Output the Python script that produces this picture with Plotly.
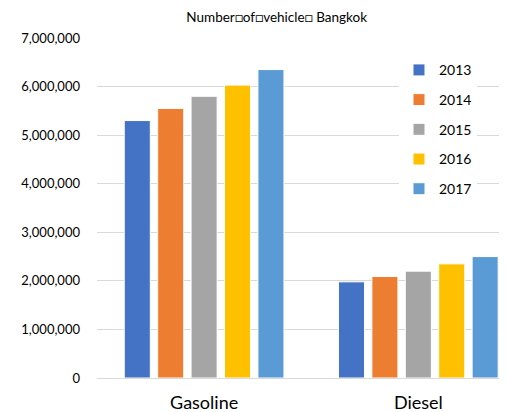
import plotly.graph_objects as go

categories = ["Gasoline", "Diesel"]
years = ["2013", "2014", "2015", "2016", "2017"]
gasoline = [5300000, 5550000, 5800000, 6030000, 6350000]
diesel = [1980000, 2090000, 2200000, 2350000, 2500000]
colors = ["#4472C4", "#ED7D31", "#A5A5A5", "#FFC000", "#5B9BD5"]
y_ticks = [0, 1000000, 2000000, 3000000, 4000000, 5000000, 6000000, 7000000]
title_text = "Number\u25a1of\u25a1vehicle\u25a1 Bangkok"

font_family = "Lato, 'Open Sans', sans-serif"

fig = go.Figure()
for i, yr in enumerate(years):
    fig.add_trace(go.Bar(
        x=categories,
        y=[gasoline[i], diesel[i]],
        name=yr,
        legendgroup=yr,
        marker=dict(color=colors[i], line=dict(color="white", width=1)),
    ))

fig.update_layout(
    width=507, height=412,
    margin=dict(l=89, r=11, t=30, b=42),
    paper_bgcolor="white", plot_bgcolor="white",
    barmode="group", bargap=0.22, bargroupgap=0.22,
    title=dict(text=title_text, x=0.53, xanchor="center", y=0.99, yanchor="top",
               xref="container", yref="container",
               font=dict(family=font_family, size=13.5, color="#000000")),
    showlegend=True,
    legend=dict(x=0.742, y=0.952, xanchor="left", yanchor="top",
                bgcolor="white", font=dict(family=font_family, size=14, color="#000000"),
                tracegroupgap=8.5, itemwidth=30, traceorder="grouped"),
    xaxis=dict(range=[-0.5, 1.4], showgrid=False, showline=False, ticks="",
               ticklabelstandoff=12, automargin=False,
               tickfont=dict(family=font_family, size=18, color="#000000")),
    yaxis=dict(range=[0, 7000000], tickvals=y_ticks, tickformat=",d",
               showgrid=True, gridcolor="#D9D9D9", gridwidth=1,
               zeroline=True, zerolinecolor="#D9D9D9", zerolinewidth=1,
               showline=False, ticks="", ticklabelstandoff=16, automargin=False,
               tickfont=dict(family=font_family, size=13, color="#000000")),
)

fig.write_html("out.html")
